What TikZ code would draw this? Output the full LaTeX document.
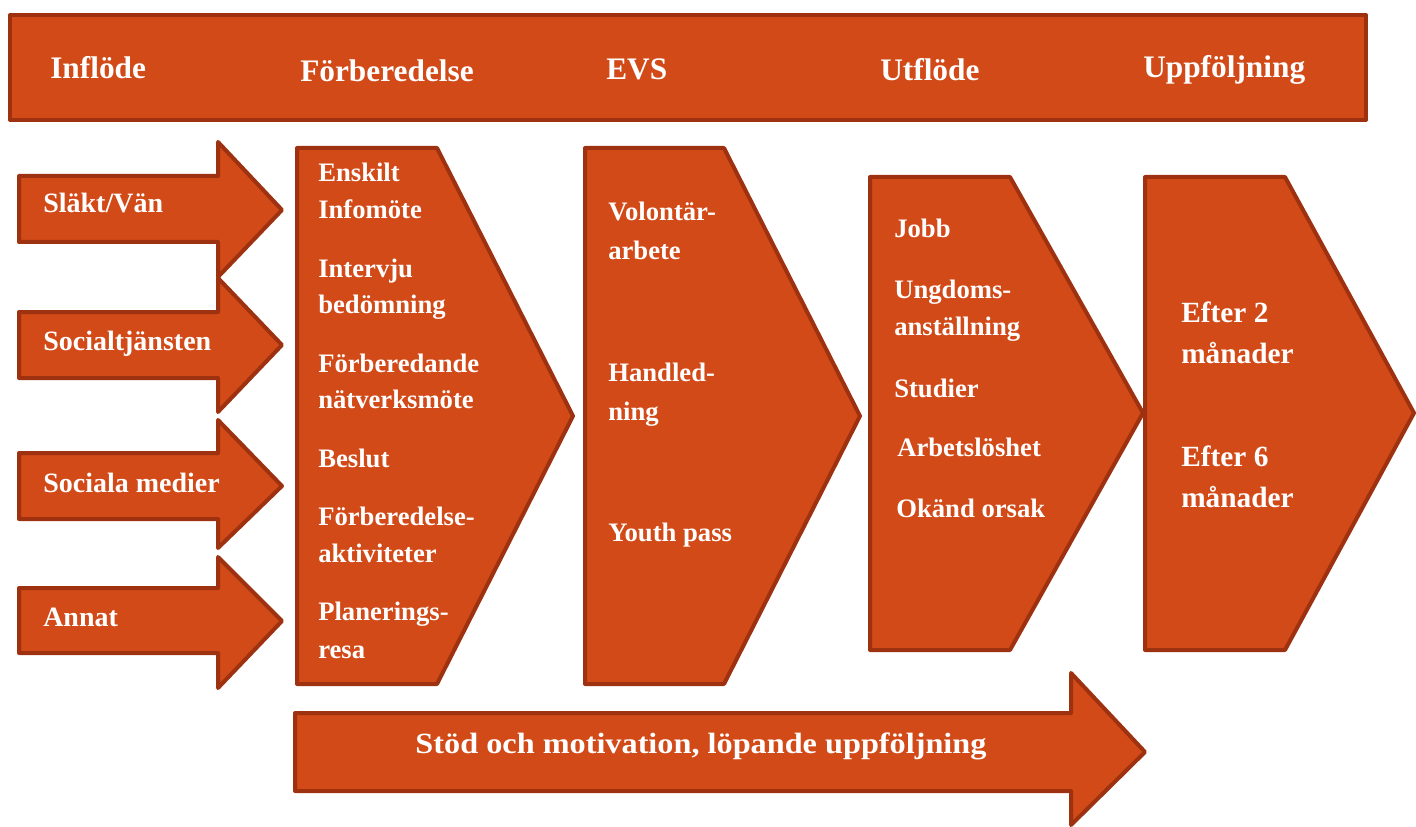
\documentclass[tikz,border=0pt]{standalone}
\usepackage{fontspec}
\usepackage{graphicx}
\setmainfont{Liberation Serif}
\definecolor{orfill}{RGB}{209,74,24}
\definecolor{ordraw}{RGB}{158,49,16}
\tikzset{
  shapebox/.style={fill=orfill, draw=ordraw, line width=3pt, line join=round},
  hdr/.style={anchor=base west, text=white, font=\fontsize{23.5}{28}\selectfont\bfseries, inner sep=0pt},
  lbl/.style={anchor=base west, text=white, font=\fontsize{21}{25}\selectfont\bfseries, inner sep=0pt},
  itm/.style={anchor=base west, text=white, font=\fontsize{20}{24}\selectfont\bfseries, inner sep=0pt},
  big/.style={anchor=base west, text=white, font=\fontsize{22}{26}\selectfont\bfseries, inner sep=0pt}
}
\begin{document}
\begin{tikzpicture}[x=0.75pt,y=-0.75pt]
\useasboundingbox (0,0) rectangle (1416,827);
% banner
\draw[shapebox] (10,15) rectangle (1366,120);
\node[hdr] (h1) at (50,79) {Inflöde};
\node[hdr] (h2) at (300,82) {Förberedelse};
\node[hdr] (h3) at (606,80) {EVS};
\node[hdr] (h4) at (880,81) {Utflöde};
\node[hdr] (h5) at (1143,78) {Uppföljning};
% left arrows
\foreach \yt/\yb/\ht/\hb/\ty in {176/242/142/277/210, 312/378/278/412/345, 453/519/420/548/486, 588/653/557/688/621}{
  \draw[shapebox] (19,\yt) -- (218,\yt) -- (218,\ht) -- (282,\ty) -- (218,\hb) -- (218,\yb) -- (19,\yb) -- cycle;
}
\node[lbl] (a1) at (43,213) {Släkt/Vän};
\node[lbl] (a2) at (43,350) {Socialtjänsten};
\node[lbl] (a3) at (43,492) {Sociala medier};
\node[lbl] (a4) at (43,626) {Annat};
% pentagons
\draw[shapebox] (297,148) -- (437,148) -- (573,416) -- (437,684) -- (297,684) -- cycle;
\draw[shapebox] (585,148) -- (724,148) -- (860,416) -- (724,684) -- (585,684) -- cycle;
\draw[shapebox] (870,177) -- (1010,177) -- (1143,413) -- (1010,650) -- (870,650) -- cycle;
\draw[shapebox] (1145,177) -- (1285,177) -- (1414,413) -- (1285,650) -- (1145,650) -- cycle;
% Forberedelse items
\node[itm] (f1) at (318,182) {Enskilt};
\node[itm] (f2) at (318,219) {Infomöte};
\node[itm] (f3) at (318,277) {Intervju};
\node[itm] (f4) at (318,313) {bedömning};
\node[itm] (f5) at (318,372) {Förberedande};
\node[itm] (f6) at (318,408) {nätverksmöte};
\node[itm] (f7) at (318,467) {Beslut};
\node[itm] (f8) at (318,525) {Förberedelse-};
\node[itm] (f9) at (318,562) {aktiviteter};
\node[itm] (f10) at (318,620) {Planerings-};
\node[itm] (f11) at (318,658) {resa};
% EVS items
\node[itm] (e1) at (608,221) {Volontär-};
\node[itm] (e2) at (608,260) {arbete};
\node[itm] (e3) at (608,381) {Handled-};
\node[itm] (e4) at (608,420) {ning};
\node[itm] (e5) at (608,541) {Youth pass};
% Utflode items
\node[itm] (u1) at (894,238) {Jobb};
\node[itm] (u2) at (894,298) {Ungdoms-};
\node[itm] (u3) at (894,335) {anställning};
\node[itm] (u4) at (894,397) {Studier};
\node[itm] (u5) at (897,456) {Arbetslöshet};
\node[itm] (u6) at (896,517) {Okänd orsak};
% Uppfoljning items
\node[big] (p1) at (1181,322) {Efter 2};
\node[big] (p2) at (1181,363) {månader};
\node[big] (p3) at (1181,466) {Efter 6};
\node[big] (p4) at (1181,507) {månader};
% bottom arrow
\draw[shapebox] (295,713) -- (1071,713) -- (1071,673) -- (1145,752) -- (1071,825) -- (1071,791) -- (295,791) -- cycle;
\node[text=white, font=\fontsize{22}{26}\selectfont\bfseries, inner sep=0pt, anchor=base] (b1) at (701,753) {\scalebox{1.1}[1]{Stöd och motivation, löpande uppföljning}};
\end{tikzpicture}
\end{document}
